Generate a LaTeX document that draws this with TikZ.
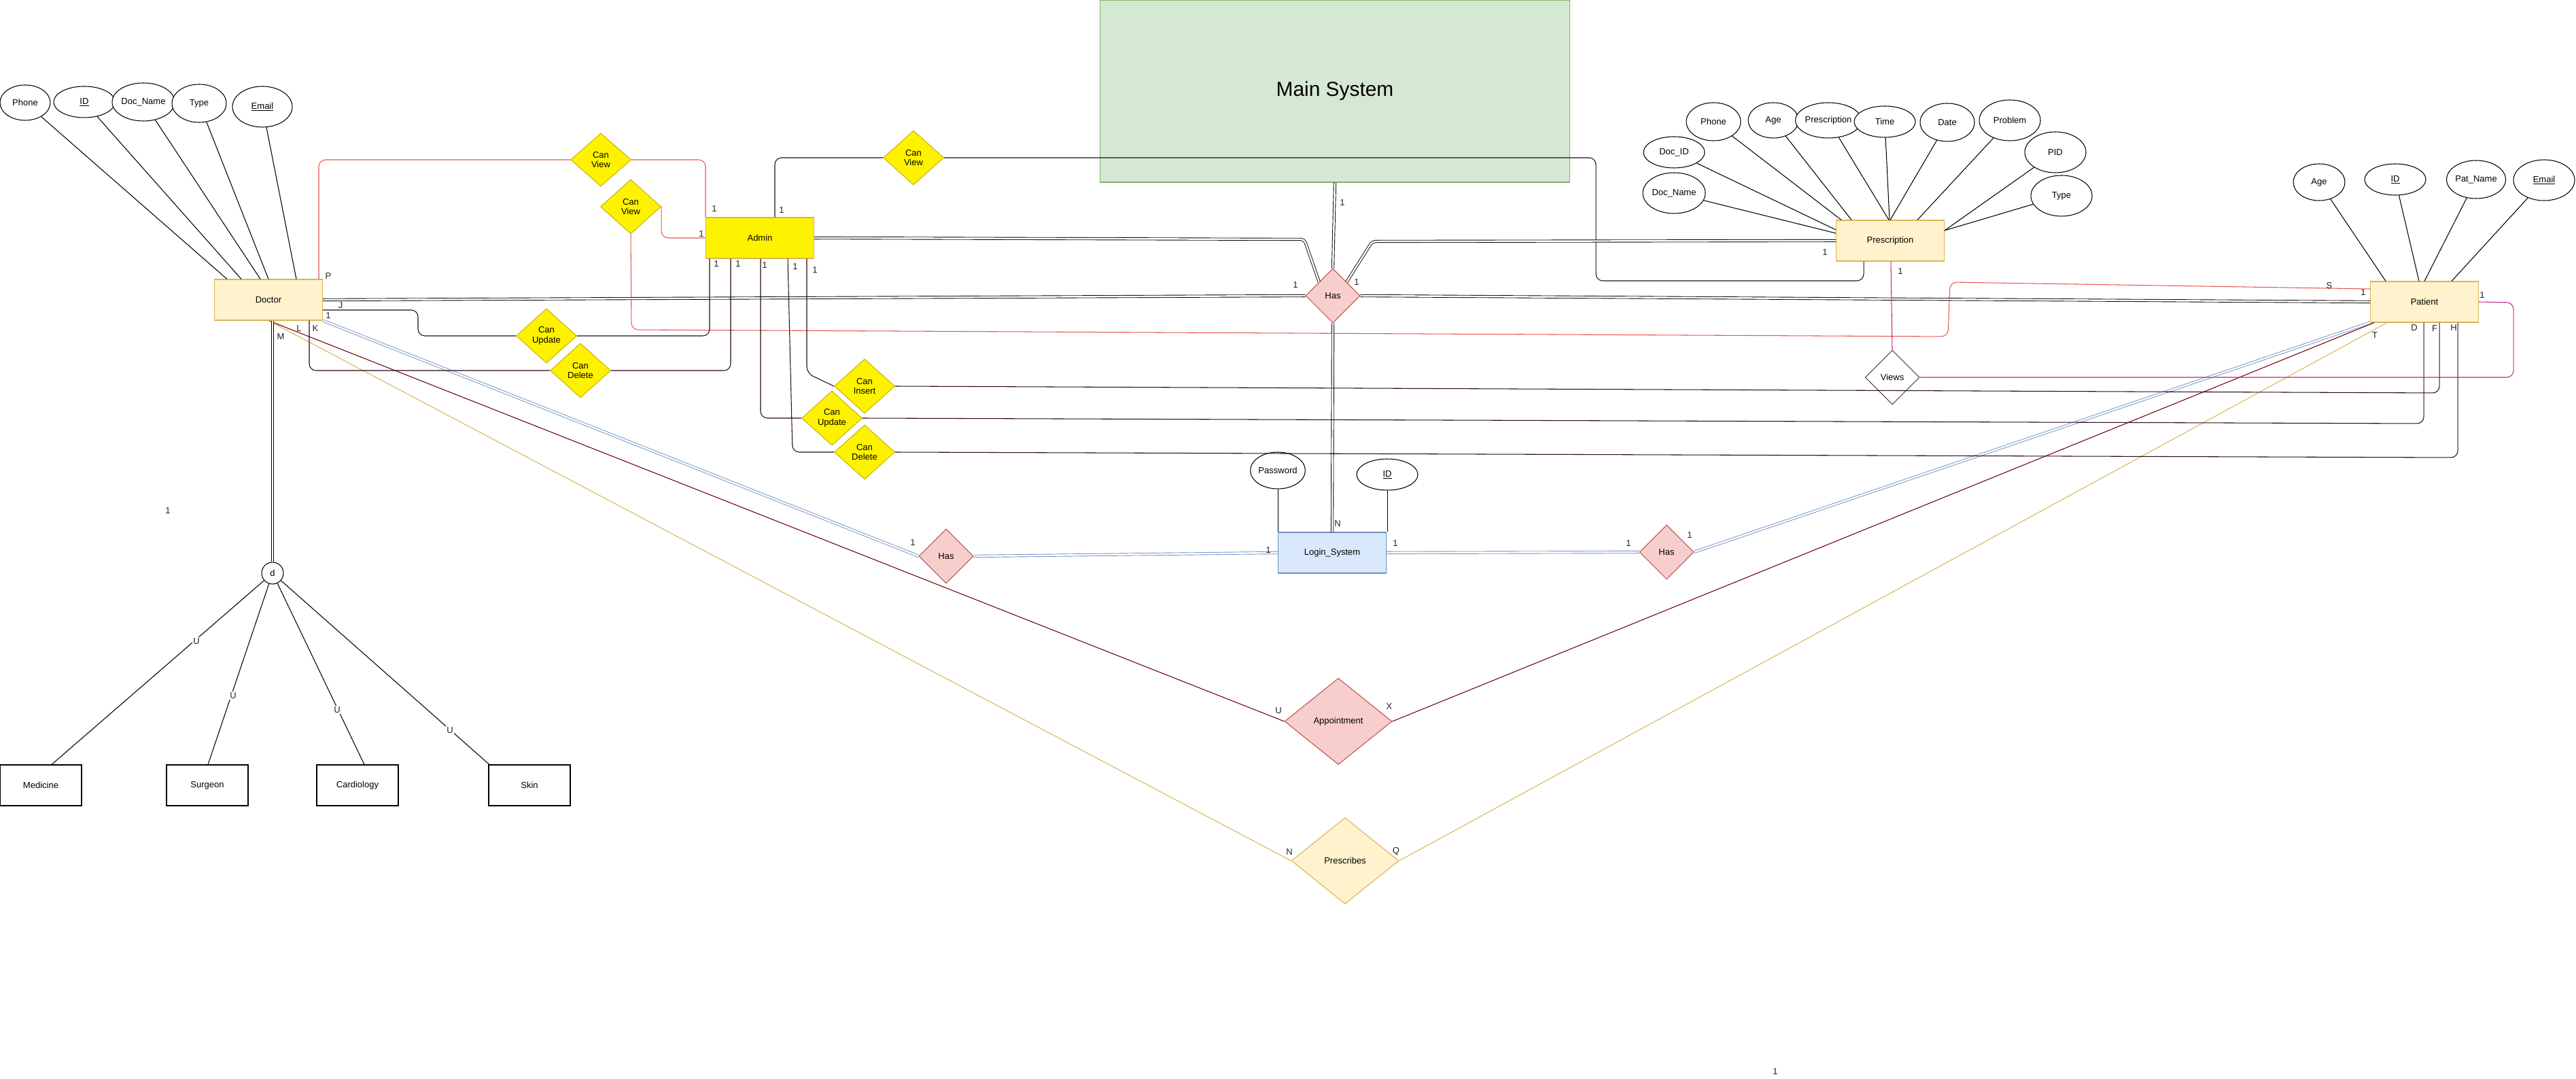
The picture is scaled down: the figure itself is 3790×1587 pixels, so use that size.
\documentclass[tikz,border=0pt]{standalone}
\usepackage{fontspec}
\setmainfont{Liberation Sans}
\usetikzlibrary{shapes.geometric}
\definecolor{entfill}{HTML}{FFF2CC}
\definecolor{entdraw}{HTML}{D6B656}
\definecolor{relfill}{HTML}{F8CECC}
\definecolor{reldraw}{HTML}{B85450}
\definecolor{logfill}{HTML}{DAE8FC}
\definecolor{logdraw}{HTML}{6C8EBF}
\definecolor{mainfill}{HTML}{D5E8D4}
\definecolor{maindraw}{HTML}{82B366}
\definecolor{yeldraw}{HTML}{C8B400}
\definecolor{redline}{HTML}{E85555}
\definecolor{darkline}{HTML}{2A0A1A}
\definecolor{apptline}{HTML}{6F0000}
\definecolor{magline}{HTML}{CC2288}
\definecolor{lbltext}{HTML}{222222}
\newcommand{\sfs}{\fontsize{3.7}{4.2}\selectfont}
\newcommand{\ulkey}[1]{\setbox0\hbox{#1}\rlap{\rule[-0.45pt]{\wd0}{0.18pt}}\box0}
\begin{document}
\begin{tikzpicture}[x=0.1mm,y=-0.1mm,line width=0.3pt,
  attr/.style={ellipse,draw=black,fill=white,inner sep=0pt,font=\sfs},
  ent/.style={rectangle,draw=entdraw,fill=entfill,minimum width=15.9mm,minimum height=6mm,inner sep=0pt,font=\sfs},
  subcls/.style={rectangle,draw=black,fill=white,minimum width=12mm,minimum height=6mm,inner sep=0pt,font=\sfs},
  rel/.style={diamond,draw=reldraw,fill=relfill,minimum width=8mm,minimum height=8mm,inner sep=0pt,font=\sfs},
  ydia/.style={diamond,draw=yeldraw,fill=yellow,minimum width=8.9mm,minimum height=8mm,inner sep=0pt,align=center,font=\sfs},
  mainbox/.style={rectangle,draw=maindraw,fill=mainfill,minimum width=69.1mm,minimum height=26.8mm,font=\fontsize{8.5}{10}\selectfont},
  lbl/.style={inner sep=0pt,font=\sfs,text=lbltext},
  ulbl/.style={inner sep=0.4pt,fill=white,font=\sfs,text=lbltext},
  dbl/.style={draw=black,double=white,double distance=0.7pt,line width=0.25pt},
  dblb/.style={draw=logdraw,double=white,double distance=0.7pt,line width=0.25pt},
  redc/.style={draw=redline,line width=0.3pt},
  darkc/.style={draw=darkline,line width=0.3pt},
  apptc/.style={draw=apptline,line width=0.3pt},
  presc/.style={draw=entdraw,line width=0.3pt},
  magc/.style={draw=magline,line width=0.3pt}]
\useasboundingbox (0,0) rectangle (3790,1587);
\fill[white] (0,0) rectangle (3790,1587);

% main system
\node[mainbox] (main) at (1964,134) {Main System};

% entities
\node[ent] (doctor) at (395,441) {Doctor};
\node[ent,fill=yellow] (admin) at (1118,350) {Admin};
\node[ent] (prescription) at (2781,354) {Prescription};
\node[ent] (patient) at (3567,444) {Patient};
\node[ent,fill=logfill,draw=logdraw] (login) at (1960,813) {Login\_System};

% subclasses
\node[subcls] (medicine) at (60,1155) {Medicine};
\node[subcls] (surgeon) at (305,1155) {Surgeon};
\node[subcls] (cardiology) at (526,1155) {Cardiology};
\node[subcls] (skin) at (779,1155) {Skin};
\node[circle,draw=black,fill=white,minimum size=3.2mm,inner sep=0pt,font=\sfs] (dcirc) at (401,843) {d};

% relationships
\node[rel] (has1) at (1961,435) {Has};
\node[rel] (hasL) at (1392,818) {Has};
\node[rel] (hasR) at (2452,812) {Has};
\node[rel,minimum width=15.8mm,minimum height=12.7mm] (appt) at (1969,1061) {Appointment};
\node[rel,fill=entfill,draw=entdraw,minimum width=15.8mm,minimum height=12.7mm] (prescribes) at (1979,1266) {Prescribes};
\node[rel,fill=white,draw=black!70] (views) at (2784,555) {Views};

% yellow diamonds
\node[ydia,minimum height=7.8mm] (canview1) at (884,235) {Can\\View};
\node[ydia] (canview2) at (928,304) {Can\\View};
\node[ydia] (canview3) at (1344,232) {Can\\View};
\node[ydia] (canupd1) at (804,494) {Can\\Update};
\node[ydia] (candel1) at (854,545) {Can\\Delete};
\node[ydia] (canins) at (1272,568) {Can\\Insert};
\node[ydia] (canupd2) at (1224,615) {Can\\Update};
\node[ydia] (candel2) at (1272,665) {Can\\Delete};

% doctor attributes
\node[attr,minimum width=7.4mm,minimum height=5.2mm] (dphone) at (37,151) {Phone};
\node[attr,minimum width=9mm,minimum height=4.6mm] (did) at (124,150) {\ulkey{ID}};
\node[attr,minimum width=7.8mm,minimum height=5.6mm] (ddname) at (211,150) {Doc\_Name};
\node[attr,minimum width=8mm,minimum height=5.6mm] (dtype) at (293,152) {Type};
\node[attr,minimum width=8.8mm,minimum height=6mm] (demail) at (386,157) {\ulkey{Email}};

% prescription attributes
\node[attr,minimum width=8mm,minimum height=5.6mm] (pphone) at (2521,179) {Phone};
\node[attr,minimum width=7.4mm,minimum height=5.2mm] (page) at (2609,177) {Age};
\node[attr,minimum width=7.4mm,minimum height=5.2mm] (ppres) at (2690,177) {Prescription};
\node[attr,minimum width=9mm,minimum height=4.6mm] (ptime) at (2773,179) {Time};
\node[attr,minimum width=8mm,minimum height=5.6mm] (pdate) at (2865,180) {Date};
\node[attr,minimum width=9mm,minimum height=6mm] (pprob) at (2957,177) {Problem};
\node[attr,minimum width=9mm,minimum height=6mm] (ppid) at (3024,224) {PID};
\node[attr,minimum width=9mm,minimum height=6mm] (ptype) at (3033,288) {Type};
\node[attr,minimum width=9mm,minimum height=4.6mm] (pdocid) at (2463,224) {Doc\_ID};
\node[attr,minimum width=9mm,minimum height=6mm] (pdocname) at (2463,284) {Doc\_Name};

% patient attributes
\node[attr,minimum width=7.6mm,minimum height=5.4mm] (tage) at (3412,268) {Age};
\node[attr,minimum width=9mm,minimum height=4.6mm] (tid) at (3524,264) {\ulkey{ID}};
\node[attr,minimum width=8mm,minimum height=5.6mm] (tname) at (3643,264) {Pat\_Name};
\node[attr,minimum width=9mm,minimum height=6mm] (temail) at (3743,265) {\ulkey{Email}};

% login attributes
\node[attr,minimum width=7.6mm,minimum height=5.4mm] (lpass) at (1880,692) {Password};
\node[attr,minimum width=9mm,minimum height=4.6mm] (lid) at (2041,698) {\ulkey{ID}};

% attribute lines
\draw (dphone) -- (334,0 |- doctor.north);
\draw (did) -- (355,0 |- doctor.north);
\draw (ddname) -- (383,0 |- doctor.north);
\draw (dtype) -- (395,0 |- doctor.north);
\draw (demail) -- (436,0 |- doctor.north);
\draw (pdocname) -- (prescription.west |- 0,343);
\draw (pdocid) -- (prescription.west |- 0,338);
\draw (pphone) -- (2709,0 |- prescription.north);
\draw (page) -- (2724,0 |- prescription.north);
\draw (ppres) -- (2779,0 |- prescription.north);
\draw (ptime) -- (2780,0 |- prescription.north);
\draw (pdate) -- (2781,0 |- prescription.north);
\draw (pprob) -- (2821,0 |- prescription.north);
\draw (ppid) -- (prescription.east |- 0,339);
\draw (ptype) -- (prescription.east |- 0,339);
\draw (tage) -- (3510,0 |- patient.north);
\draw (tid) -- (3559,0 |- patient.north);
\draw (tname) -- (3567,0 |- patient.north);
\draw (temail) -- (3607,0 |- patient.north);
\draw (lpass.south) -- (lpass.south |- login.north);
\draw (lid.south) -- (lid.south |- login.north);

% red connectors
\draw[redc,rounded corners=1mm] (469,0 |- doctor.north) |- (canview1.west);
\draw[redc,rounded corners=1mm] (canview1.east) -| (1038,0 |- admin.north);
\draw[redc,rounded corners=1mm] (canview2.east) |- (admin.west);
\draw[redc,rounded corners=1mm] (canview2.south) -- (929,485) -- (2866,495) -- (2869,415) -- (patient.west |- 0,425);

% admin to main/prescription via can view
\draw[darkc,rounded corners=1mm] (1140,0 |- admin.north) |- (canview3.west);
\draw[darkc,rounded corners=1mm] (canview3.east) -- (2348,232) -- (2348,413) -- (2742,413) -- (2742,0 |- prescription.south);

% double connectors around central Has
\draw[dbl,rounded corners=0.5mm] (admin.east) -- (1919,352) -- (has1.north west);
\draw[dbl,rounded corners=0.5mm] (has1.north east) -- (2019,355) -- (prescription.west);
\draw[dbl] (doctor.east) -- (has1.west);
\draw[dbl] (has1.east) -- (patient.west);
\draw[dbl] (main.south) -- (has1.north);
\draw[dbl] (has1.south) -- (login.north);

% blue double connectors
\draw[dblb] (login.east) -- (hasR.west);
\draw[dblb] (hasL.east) -- (login.west);
\draw[dblb] (doctor.south east) -- (hasL.west);
\draw[dblb] (hasR.east) -- (patient.south west);

% appointment / prescribes
\draw[apptc] (doctor.south) -- (appt.west);
\draw[apptc] (appt.east) -- (3493,0 |- patient.south);
\draw[presc] (doctor.south) -- (prescribes.west);
\draw[presc] (prescribes.east) -- (3512,0 |- patient.south);

% admin permissions
\draw[darkc,rounded corners=1mm] (doctor.east |- 0,456) -- (615,456) -- (615,494) -- (canupd1.west);
\draw[darkc,rounded corners=1mm] (canupd1.east) -| (1044,0 |- admin.south);
\draw[darkc,rounded corners=1mm] (455,0 |- doctor.south) |- (candel1.west);
\draw[darkc,rounded corners=1mm] (candel1.east) -| (1075,0 |- admin.south);
\draw[darkc,rounded corners=1mm] (1119,0 |- admin.south) |- (canupd2.west);
\draw[darkc,rounded corners=1mm] (canupd2.east) -- (3566,623) -- (3566,0 |- patient.south);
\draw[darkc,rounded corners=1mm] (1159,0 |- admin.south) -- (1166,665) -- (candel2.west);
\draw[darkc,rounded corners=1mm] (candel2.east) -- (3616,673) -- (3616,0 |- patient.south);
\draw[darkc,rounded corners=1mm] (1187,0 |- admin.south) -- (1187,549) -- (canins.west);
\draw[darkc,rounded corners=1mm] (canins.east) -- (3589,578) -- (3589,0 |- patient.south);

% views
\draw[magc] (2782,0 |- prescription.south) -- (views.north);
\draw[magc,rounded corners=1mm] (views.east) -- (3698,555) -- (3698,445) -- (patient.east);

% specialization
\draw[dbl] (dcirc.north |- doctor.south) -- (dcirc.north);
\draw (dcirc) -- (76,0 |- medicine.north);
\draw (dcirc) -- (306,0 |- surgeon.north);
\draw (dcirc) -- (536,0 |- cardiology.north);
\draw (dcirc) -- (720,0 |- skin.north);
\node[ulbl] (u1) at (289,943) {U};
\node[ulbl] (u2) at (343,1023) {U};
\node[ulbl] (u3) at (496,1044) {U};
\node[ulbl] (u4) at (662,1074) {U};

% labels
\node[lbl] (lP) at (483,406) {P};
\node[lbl] (lJ) at (501,449) {J};
\node[lbl] (lD1) at (483,464) {1};
\node[lbl] (lK) at (464,483) {K};
\node[lbl] (lL) at (440,483) {L};
\node[lbl] (lM) at (413,495) {M};
\node[lbl] (la1) at (1051,307) {1};
\node[lbl] (la2) at (1150,309) {1};
\node[lbl] (la3) at (1032,344) {1};
\node[lbl] (la4) at (1054,388) {1};
\node[lbl] (la5) at (1086,388) {1};
\node[lbl] (la6) at (1125,390) {1};
\node[lbl] (la7) at (1170,392) {1};
\node[lbl] (la8) at (1199,397) {1};
\node[lbl] (lh1) at (1975,298) {1};
\node[lbl] (lh2) at (1906,419) {1};
\node[lbl] (lh3) at (1996,415) {1};
\node[lbl] (lp1) at (2685,371) {1};
\node[lbl] (lp2) at (2796,399) {1};
\node[lbl] (lS) at (3427,420) {S};
\node[lbl] (lt1) at (3477,430) {1};
\node[lbl] (lt2) at (3652,434) {1};
\node[lbl] (lDD) at (3552,482) {D};
\node[lbl] (lF) at (3582,483) {F};
\node[lbl] (lH) at (3610,482) {H};
\node[lbl] (lT) at (3494,493) {T};
\node[lbl] (lN1) at (1968,770) {N};
\node[lbl] (lg1) at (1866,809) {1};
\node[lbl] (lg2) at (2053,799) {1};
\node[lbl] (lg3) at (2396,799) {1};
\node[lbl] (lg4) at (2486,787) {1};
\node[lbl] (lg5) at (1343,798) {1};
\node[lbl] (lU) at (1881,1045) {U};
\node[lbl] (lX) at (2044,1039) {X};
\node[lbl] (lN2) at (1897,1253) {N};
\node[lbl] (lQ) at (2054,1252) {Q};
\node[lbl] (lo1) at (247,751) {1};
\node[lbl] (lo2) at (2612,1576) {1};
\end{tikzpicture}
\end{document}
